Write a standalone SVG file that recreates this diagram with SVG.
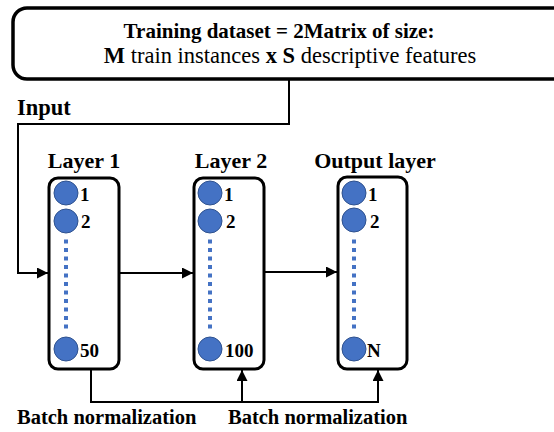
<svg xmlns="http://www.w3.org/2000/svg" width="554" height="432" viewBox="0 0 554 432">
<style>
  text { font-family: "Liberation Serif", "Times New Roman", serif; fill: #000; }
  .b { font-weight: bold; }
  .title { font-size: 22px; font-weight: bold; text-anchor: middle; }
  .num { font-size: 19px; font-weight: bold; }
  .layer { fill: #fff; stroke: #000; stroke-width: 3; }
  .neuron { fill: #4472C4; stroke: #2F528F; stroke-width: 1; }
  .dots { stroke: #4472C4; stroke-width: 4; stroke-dasharray: 4 4.5; fill: none; }
  .conn { fill: none; stroke: #000; stroke-width: 2; }
</style>
<defs>
  <marker id="arr" viewBox="0 0 10 10" refX="10" refY="5" markerWidth="5.5" markerHeight="5.5" markerUnits="strokeWidth" orient="auto">
    <path d="M0,0 L10,5 L0,10 Z" fill="#000"/>
  </marker>
</defs>
<rect width="554" height="432" fill="#fff"/>

<g id="dataset">
  <rect x="13" y="8" width="580" height="71" rx="14" fill="#fff" stroke="#000" stroke-width="3.5"/>
  <text x="279" y="38" font-size="21" class="b" text-anchor="middle">Training dataset = 2Matrix of size:</text>
  <text x="290" y="63" font-size="22.5" text-anchor="middle"><tspan font-weight="bold">M</tspan> train instances <tspan font-weight="bold">x</tspan> <tspan font-weight="bold">S</tspan> descriptive features</text>
</g>

<g id="connectors">
  <polyline class="conn" points="289,79 289,124 18,124 18,273 48,273" marker-end="url(#arr)"/>
  <line class="conn" x1="119" y1="273" x2="193" y2="273" marker-end="url(#arr)"/>
  <line class="conn" x1="264" y1="272" x2="337" y2="272" marker-end="url(#arr)"/>
  <polyline class="conn" points="91,369 91,402 378,402 378,370" marker-end="url(#arr)"/>
  <line class="conn" x1="242" y1="402" x2="242" y2="370" marker-end="url(#arr)"/>
</g>

<g id="input-label">
  <text x="17" y="115" font-size="22.5" class="b">Input</text>
</g>

<g id="layer1">
  <text x="84" y="168" class="title">Layer 1</text>
  <rect class="layer" x="49" y="178" width="70" height="191" rx="9"/>
  <circle class="neuron" cx="66" cy="193" r="12"/>
  <circle class="neuron" cx="66" cy="221" r="12"/>
  <line class="dots" x1="66" y1="239.5" x2="66" y2="329"/>
  <circle class="neuron" cx="66" cy="349" r="12"/>
  <text x="80" y="201" class="num">1</text>
  <text x="81" y="228" class="num">2</text>
  <text x="80" y="357" class="num">50</text>
</g>

<g id="layer2">
  <text x="231" y="168" class="title">Layer 2</text>
  <rect class="layer" x="194" y="178" width="70" height="191" rx="9"/>
  <circle class="neuron" cx="210" cy="193" r="12"/>
  <circle class="neuron" cx="210" cy="221" r="12"/>
  <line class="dots" x1="210" y1="239.5" x2="210" y2="329"/>
  <circle class="neuron" cx="210" cy="349" r="12"/>
  <text x="224" y="201" class="num">1</text>
  <text x="226" y="228" class="num">2</text>
  <text x="225" y="357" class="num">100</text>
</g>

<g id="output">
  <text x="375" y="168" class="title">Output layer</text>
  <rect class="layer" x="338" y="177" width="69" height="192" rx="9"/>
  <circle class="neuron" cx="354" cy="193" r="12"/>
  <circle class="neuron" cx="354" cy="220" r="12"/>
  <line class="dots" x1="354" y1="239.5" x2="354" y2="329"/>
  <circle class="neuron" cx="354" cy="349" r="12"/>
  <text x="368" y="201" class="num">1</text>
  <text x="370" y="228" class="num">2</text>
  <text x="367" y="357" class="num">N</text>
</g>

<g id="bn1">
  <text x="17" y="424" font-size="20.5" class="b">Batch normalization</text>
</g>
<g id="bn2">
  <text x="228" y="424" font-size="20.5" class="b">Batch normalization</text>
</g>
</svg>
